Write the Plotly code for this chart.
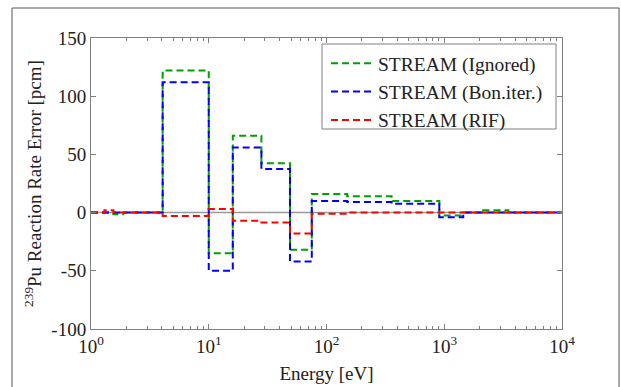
import plotly.graph_objects as go

# Bin edges [eV] and per-bin values [pcm]
edges = [1, 1.3, 1.55, 1.88, 4.06, 10, 16, 28, 49, 75, 150, 357, 908, 1450, 2140, 3500, 10000]
ignored = [0, 0, -1.5, 0, 122, -35, 66, 42.5, -32, 16, 14, 10, -2.5, 0, 2, 0]
bon_iter = [0, 0, 0, 0, 112, -50, 56, 37.5, -42, 10, 9, 7.5, -4, 0, 0, 0]
rif = [0, 2, 0, 0, -3, 3, -7, -8.5, -18, -1, 0, 0, 0, 0, 0, 0]

series_names = ["STREAM (Ignored)", "STREAM (Bon.iter.)", "STREAM (RIF)"]
series_vals = [ignored, bon_iter, rif]
series_colors = ["#00a000", "#0000ff", "#ff0000"]

y_ticks = [-100, -50, 0, 50, 100, 150]
y_ticktext = ["-100", "-50", "0", "50", "100", "150"]
x_ticks = [1, 10, 100, 1000, 10000]
x_ticktext = ["10<sup>0</sup>", "10<sup>1</sup>", "10<sup>2</sup>", "10<sup>3</sup>", "10<sup>4</sup>"]

FONT = "Liberation Serif, Times New Roman, serif"
AX = "#808080"

fig = go.Figure()
for i, (name, vals, col) in enumerate(zip(series_names, series_vals, series_colors)):
    fig.add_trace(go.Scatter(
        x=edges, y=vals + [vals[-1]], mode="lines", line_shape="hv",
        name=name,
        line=dict(color=col, width=2, dash="7px,4px"),
    ))

fig.add_shape(type="line", xref="paper", yref="y", x0=0, x1=1, y0=0, y1=0,
              line=dict(color="#999999", width=1.5), layer="below")

# outer frame
pl, pr, pt, pb = 91, 562, 38, 329
W, H = pr - pl, pb - pt
fig.add_shape(type="rect", xref="paper", yref="paper",
              x0=(12 - pl) / W, x1=(619 - pl) / W,
              y0=(pb - 420) / H, y1=(pb - 8) / H,
              line=dict(color="#555555", width=1), fillcolor="rgba(0,0,0,0)")
# legend box
fig.add_shape(type="rect", xref="paper", yref="paper", layer="above",
              x0=(322 - pl) / W, x1=(556 - pl) / W,
              y0=(pb - 129) / H, y1=(pb - 44) / H,
              line=dict(color=AX, width=1), fillcolor="white")

fig.update_layout(
    width=621, height=387,
    margin=dict(l=pl, r=621 - pr, t=pt, b=387 - pb),
    paper_bgcolor="white", plot_bgcolor="white",
    font=dict(family=FONT, size=19, color="#222222"),
    showlegend=True,
    legend=dict(x=(326 - pl) / W, y=(pb - 44) / H, xanchor="left", yanchor="top",
                borderwidth=0, bgcolor="rgba(255,255,255,0)",
                font=dict(family=FONT, size=19.5, color="#222222"),
                tracegroupgap=0, itemwidth=42, indentation=0),
    xaxis=dict(type="log", range=[0, 4], tickvals=x_ticks, ticktext=x_ticktext,
               ticks="inside", ticklen=5, tickcolor=AX, showline=True, linecolor=AX,
               linewidth=1, mirror="ticks", showgrid=False, zeroline=False,
               minor=dict(ticks="inside", ticklen=3, tickcolor=AX, showgrid=False, dtick="D1"),
               automargin=False,
               title=dict(text="Energy [eV]", font=dict(size=19), standoff=10),
               tickfont=dict(size=19)),
    yaxis=dict(range=[-100, 150], tickvals=y_ticks, ticktext=y_ticktext,
               ticks="inside", ticklen=5, tickcolor=AX, showline=True, linecolor=AX,
               linewidth=1, mirror="ticks", showgrid=False, zeroline=False,
               automargin=False,
               title=dict(text="<sup>239</sup>Pu Reaction Rate Error [pcm]",
                          font=dict(size=19), standoff=4),
               tickfont=dict(size=19)),
)

fig.write_html("out.html")
